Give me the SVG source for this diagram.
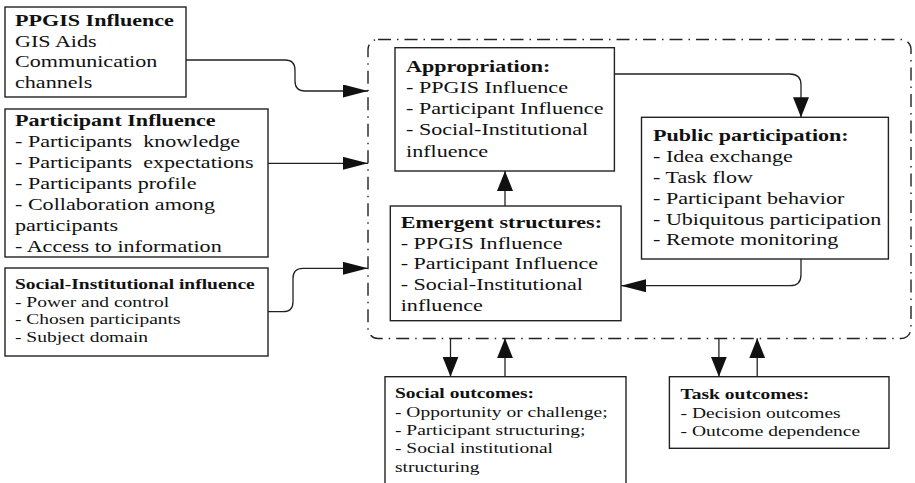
<svg xmlns="http://www.w3.org/2000/svg" width="915" height="483" viewBox="0 0 915 483">
<style>
.t { font-family: "Liberation Serif", "Times New Roman", serif; font-size: 17px; fill: #111; }
.s { font-size: 15px; }
.b { font-weight: bold; }
.box { fill: #fff; stroke: #222; stroke-width: 1.4; }
.con { fill: none; stroke: #222; stroke-width: 1.3; }
.frame { fill: none; stroke: #222; stroke-width: 1.4; stroke-dasharray: 13 6 1.5 6; }
</style>
<defs>
<marker id="ah" viewBox="0 0 25 13" refX="25" refY="6.5" markerWidth="25" markerHeight="13" markerUnits="userSpaceOnUse" orient="auto"><path d="M0,0 L25,6.5 L0,13 z" fill="#111"/></marker>
<marker id="av" viewBox="0 0 20 16" refX="20" refY="8" markerWidth="20" markerHeight="16" markerUnits="userSpaceOnUse" orient="auto"><path d="M0,0 L20,8 L0,16 z" fill="#111"/></marker>
</defs>
<rect width="915" height="483" fill="#fff"/>

<g id="container"><rect class="frame" x="368" y="39.5" width="543" height="299" rx="10"/></g>

<g id="ppgis">
<rect class="box" x="5" y="7" width="181" height="90"/>
<text class="t" transform="matrix(1.3 0 0 1 15 26)"><tspan class="b" x="0">PPGIS Influence</tspan><tspan x="0" dy="20.7">GIS Aids</tspan><tspan x="0" dy="20.7">Communication</tspan><tspan x="0" dy="20.7">channels</tspan></text>
</g>

<g id="participant">
<rect class="box" x="5" y="109" width="263" height="148"/>
<text class="t" transform="matrix(1.3 0 0 1 15 126)"><tspan class="b" x="0">Participant Influence</tspan><tspan x="0" dy="21">- Participants&#160; knowledge</tspan><tspan x="0" dy="21">- Participants&#160; expectations</tspan><tspan x="0" dy="21">- Participants profile</tspan><tspan x="0" dy="21">- Collaboration among</tspan><tspan x="0" dy="21">participants</tspan><tspan x="0" dy="21">- Access to information</tspan></text>
</g>

<g id="social-institutional">
<rect class="box" x="5" y="268" width="263" height="88"/>
<text class="t s" transform="matrix(1.3 0 0 1 15 289)"><tspan class="b" x="0">Social-Institutional influence</tspan><tspan x="0" dy="17.6">- Power and control</tspan><tspan x="0" dy="17.6">- Chosen participants</tspan><tspan x="0" dy="17.6">- Subject domain</tspan></text>
</g>

<g id="appropriation">
<rect class="box" x="395" y="47.7" width="219.4" height="123.3"/>
<text class="t" transform="matrix(1.3 0 0 1 406 71.5)"><tspan class="b" x="0">Appropriation:</tspan><tspan x="0" dy="21.3">- PPGIS Influence</tspan><tspan x="0" dy="21.3">- Participant Influence</tspan><tspan x="0" dy="21.3">- Social-Institutional</tspan><tspan x="0" dy="21.3">influence</tspan></text>
</g>

<g id="public-participation">
<rect class="box" x="641.5" y="117.3" width="246.9" height="141.7"/>
<text class="t" transform="matrix(1.3 0 0 1 653 141)"><tspan class="b" x="0">Public participation:</tspan><tspan x="0" dy="20.9">- Idea exchange</tspan><tspan x="0" dy="20.9">- Task flow</tspan><tspan x="0" dy="20.9">- Participant behavior</tspan><tspan x="0" dy="20.9">- Ubiquitous participation</tspan><tspan x="0" dy="20.9">- Remote monitoring</tspan></text>
</g>

<g id="emergent-structures">
<rect class="box" x="390.3" y="206" width="230.7" height="114.7"/>
<text class="t" transform="matrix(1.3 0 0 1 400.7 228.3)"><tspan class="b" x="0">Emergent structures:</tspan><tspan x="0" dy="20.6">- PPGIS Influence</tspan><tspan x="0" dy="20.6">- Participant Influence</tspan><tspan x="0" dy="20.6">- Social-Institutional</tspan><tspan x="0" dy="20.6">influence</tspan></text>
</g>

<g id="social-outcomes">
<rect class="box" x="385" y="376.7" width="241" height="115"/>
<text class="t s" transform="matrix(1.3 0 0 1 395 398.3)"><tspan class="b" x="0">Social outcomes:</tspan><tspan x="0" dy="18.35">- Opportunity or challenge;</tspan><tspan x="0" dy="18.35">- Participant structuring;</tspan><tspan x="0" dy="18.35">- Social institutional</tspan><tspan x="0" dy="18.35">structuring</tspan></text>
</g>

<g id="task-outcomes">
<rect class="box" x="669.4" y="376.7" width="219.6" height="71.6"/>
<text class="t s" transform="matrix(1.3 0 0 1 680.6 399.3)"><tspan class="b" x="0">Task outcomes:</tspan><tspan x="0" dy="18.35">- Decision outcomes</tspan><tspan x="0" dy="18.35">- Outcome dependence</tspan></text>
</g>

<g id="connectors">
<path class="con" d="M186,60 H285 Q295,60 295,70 V81 Q295,91 305,91 H368" marker-end="url(#ah)"/>
<path class="con" d="M268,163.3 H368" marker-end="url(#ah)"/>
<path class="con" d="M268,311.7 H283 Q293,311.7 293,301.7 V278.3 Q293,268.3 303,268.3 H368" marker-end="url(#ah)"/>
<path class="con" d="M614.4,74 H790 Q801,74 801,85 V117.3" marker-end="url(#av)"/>
<path class="con" d="M801,259 V274.7 Q801,285.7 790,285.7 H621" marker-end="url(#ah)"/>
<path class="con" d="M505,206 V171" marker-end="url(#av)"/>
<path class="con" d="M450.5,338.3 V376.7" marker-end="url(#av)"/>
<path class="con" d="M505,376.7 V338.3" marker-end="url(#av)"/>
<path class="con" d="M718.9,338.3 V376.7" marker-end="url(#av)"/>
<path class="con" d="M757.2,376.7 V338.3" marker-end="url(#av)"/>
</g>
</svg>
